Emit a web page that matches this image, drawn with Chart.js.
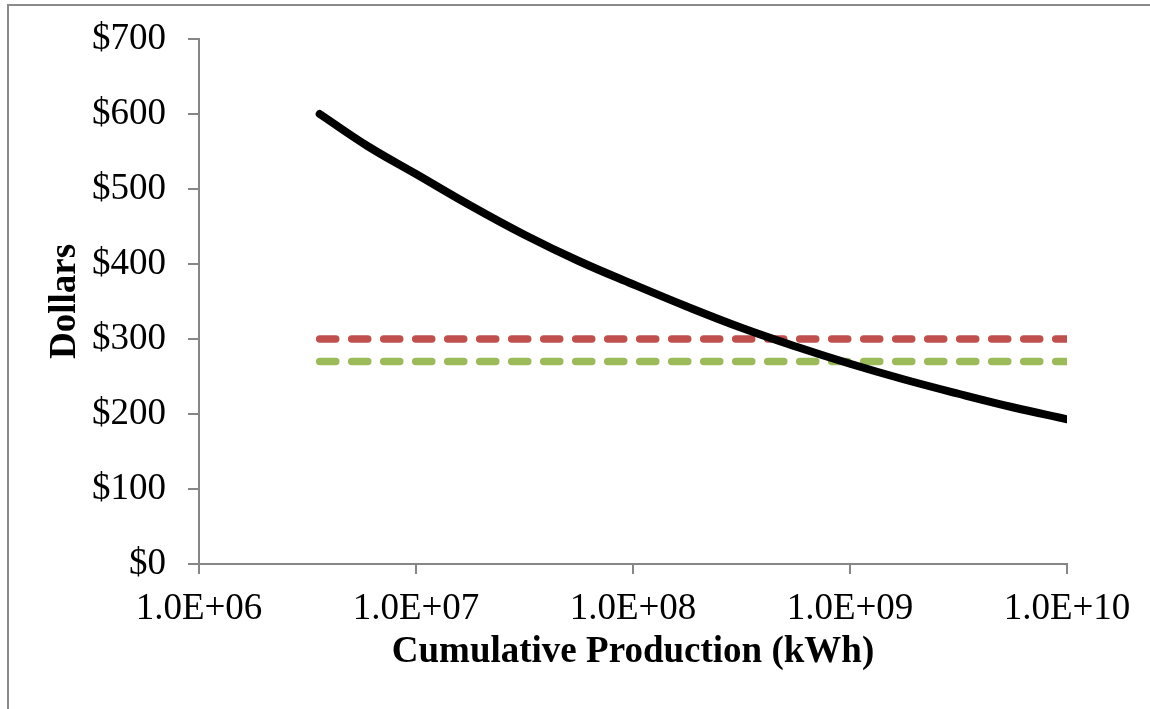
<!DOCTYPE html>
<html>
<head>
<meta charset="utf-8">
<title>Cumulative Production vs Dollars</title>
<script src="https://cdn.jsdelivr.net/npm/chart.js@4.4.1/dist/chart.umd.min.js"></script>
<style>
    html, body { margin: 0; padding: 0; background: #ffffff; }
    #wrap { width: 1150px; height: 709px; position: relative; }
</style>
</head>
<body>
<div id="wrap"><canvas id="myChart" width="1150" height="709"></canvas></div>
<script>
// data
const curveX = [3.6e6, 6e6, 1e7, 1.78e7, 3.16e7, 5.62e7, 1e8, 1.78e8, 3.16e8, 5.62e8, 1e9, 1.78e9, 3.16e9, 5.62e9, 1e10];
const curveY = [600, 557, 520, 478, 439, 404, 373, 343, 315, 290, 267, 246, 227, 209, 193];
const refX = [3.6e6, 1e10];
const redY = [300, 300];
const greenY = [270, 270];
const xTickValues = [1e6, 1e7, 1e8, 1e9, 1e10];
const xTickLabels = ['1.0E+06', '1.0E+07', '1.0E+08', '1.0E+09', '1.0E+10'];
const yTickValues = [0, 100, 200, 300, 400, 500, 600, 700];

const AXIS_GRAY = '#868686';
const FONT = "'Liberation Serif', 'Times New Roman', serif";

function toPoints(xs, ys) {
    return xs.map((x, i) => ({ x: x, y: ys[i] }));
}

// thin gray frame along the left and top edges
const framePlugin = {
    id: 'frame',
    beforeDraw(chart) {
        const ctx = chart.ctx;
        ctx.save();
        ctx.fillStyle = '#ffffff';
        ctx.fillRect(0, 0, chart.width, chart.height);
        ctx.strokeStyle = '#8a8a8a';
        ctx.lineWidth = 2;
        ctx.beginPath();
        ctx.moveTo(8, chart.height);
        ctx.lineTo(8, 5);
        ctx.lineTo(chart.width, 5);
        ctx.stroke();
        ctx.restore();
    }
};

const ctx = document.getElementById('myChart').getContext('2d');
const myChart = new Chart(ctx, {
    type: 'line',
    data: {
        datasets: [
            {
                label: 'Cost',
                data: toPoints(curveX, curveY),
                borderColor: '#000000',
                borderWidth: 8,
                borderCapStyle: 'round',
                borderJoinStyle: 'round',
                pointRadius: 0,
                tension: 0.4,
                clip: 0,
                order: 0
            },
            {
                label: 'Red',
                data: toPoints(refX, redY),
                borderColor: '#C0504D',
                borderWidth: 7.5,
                borderDash: [16, 16],
                borderCapStyle: 'round',
                pointRadius: 0,
                order: 1
            },
            {
                label: 'Green',
                data: toPoints(refX, greenY),
                borderColor: '#9BBB59',
                borderWidth: 7.5,
                borderDash: [16, 16],
                borderCapStyle: 'round',
                pointRadius: 0,
                order: 1
            }
        ]
    },
    options: {
        responsive: false,
        animation: false,
        layout: { padding: { top: 39, right: 83, bottom: 0, left: 0 } },
        plugins: {
            legend: { display: false },
            tooltip: { enabled: false }
        },
        scales: {
            x: {
                type: 'logarithmic',
                min: 1e6,
                max: 1e10,
                afterBuildTicks: (scale) => {
                    scale.ticks = xTickValues.map(v => ({ value: v }));
                },
                afterFit: (scale) => {
                    scale.height = 145;
                    scale.paddingLeft = 0;
                    scale.paddingRight = 0;
                },
                ticks: {
                    autoSkip: false,
                    maxRotation: 0,
                    padding: 13,
                    color: '#000000',
                    font: { family: FONT, size: 37 },
                    callback: (value) => {
                        const i = xTickValues.indexOf(value);
                        return i >= 0 ? xTickLabels[i] : '';
                    }
                },
                grid: {
                    drawOnChartArea: false,
                    drawTicks: true,
                    tickLength: 10,
                    color: AXIS_GRAY,
                    lineWidth: 2
                },
                border: { color: AXIS_GRAY, width: 2 },
                title: {
                    display: true,
                    text: 'Cumulative Production (kWh)',
                    color: '#000000',
                    font: { family: FONT, size: 37, weight: 'bold' },
                    padding: { top: 0, bottom: 34 }
                }
            },
            y: {
                min: 0,
                max: 700,
                afterBuildTicks: (scale) => {
                    scale.ticks = yTickValues.map(v => ({ value: v }));
                },
                afterFit: (scale) => {
                    scale.width = 199;
                    scale.paddingTop = 0;
                    scale.paddingBottom = 0;
                },
                ticks: {
                    padding: 22,
                    color: '#000000',
                    font: { family: FONT, size: 37 },
                    callback: (value) => '$' + value
                },
                grid: {
                    drawOnChartArea: false,
                    drawTicks: true,
                    tickLength: 11,
                    color: AXIS_GRAY,
                    lineWidth: 2
                },
                border: { color: AXIS_GRAY, width: 2 },
                title: {
                    display: true,
                    text: 'Dollars',
                    color: '#000000',
                    font: { family: FONT, size: 37, weight: 'bold' },
                    padding: { top: 43, bottom: 0 }
                }
            }
        }
    },
    plugins: [framePlugin]
});
</script>
</body>
</html>
